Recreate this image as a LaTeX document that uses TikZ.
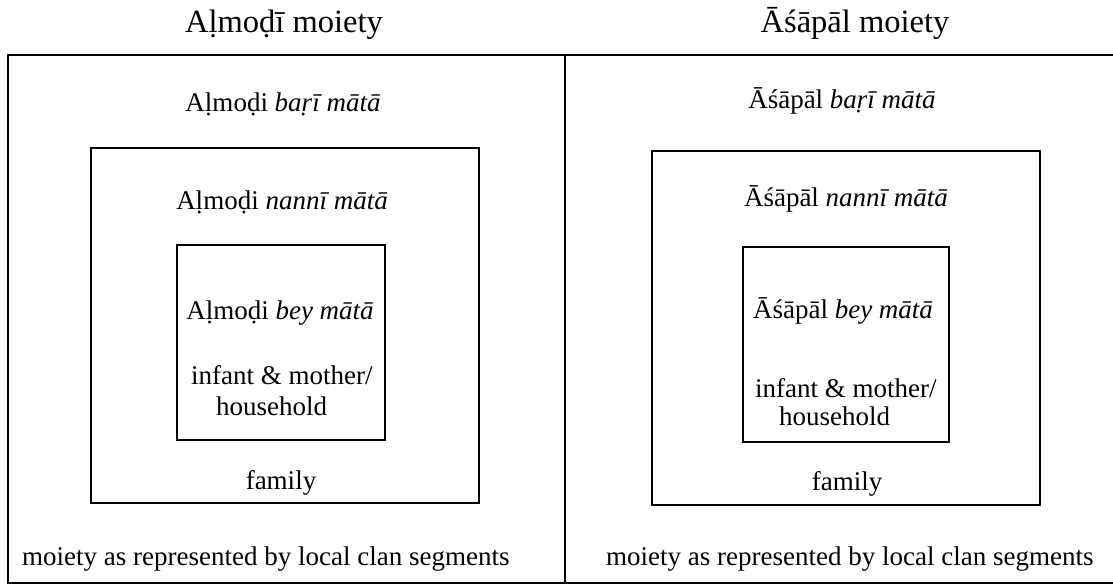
\documentclass[tikz,border=0pt]{standalone}
\usepackage{fontspec}
\setmainfont{Liberation Serif}
\begin{document}
\begin{tikzpicture}[x=1pt,y=-1pt,
  frame/.style={line width=1.6pt},
  divider/.style={line width=2.8pt},
  box/.style={draw, line width=1.3pt, inner sep=0pt},
  lbl/.style={font=\fontsize{27}{32}\selectfont, inner sep=0pt, anchor=base},
  lblw/.style={font=\fontsize{27}{32}\selectfont, inner sep=0pt, anchor=base west},
  ttl/.style={font=\fontsize{32.5}{38}\selectfont, inner sep=0pt, anchor=base}]
\useasboundingbox (0,0) rectangle (1113,585);
\begin{scope}
  \clip (0,0) rectangle (1113,585);
  \draw[frame] (8,55) rectangle (1125,583);
\end{scope}
\draw[divider] (565,55) -- (565,583);
% titles
\node[ttl] (tl) at (284,33) {Aḷmoḍī moiety};
\node[ttl] (tr) at (855,33) {Āśāpāl moiety};
% left boxes
\node[box, minimum width=388pt, minimum height=355pt] (lfam) at (285,325.5) {};
\node[box, minimum width=208pt, minimum height=195pt] (lin) at (281,342.5) {};
% right boxes
\node[box, minimum width=388pt, minimum height=354pt] (rfam) at (846,328) {};
\node[box, minimum width=206pt, minimum height=195pt] (rin) at (846,344.5) {};
% left texts
\node[lbl] (lbari) at (283,112) {Aḷmoḍi \textit{baṛī mātā}};
\node[lbl] (lnanni) at (282,210) {Aḷmoḍi \textit{nannī mātā}};
\node[lbl] (lbey) at (280,319) {Aḷmoḍi \textit{bey mātā}};
\node[lblw] (linf) at (191,384) {infant \& mother/};
\node[lblw] (lhh) at (216,415) {household};
\node[lbl] (lfamt) at (281,489) {family};
\node[lblw] (lmoi) at (22,565) {moiety as represented by local clan segments};
% right texts
\node[lbl] (rbari) at (842,109) {Āśāpāl \textit{baṛī mātā}};
\node[lbl] (rnanni) at (846,207) {Āśāpāl \textit{nannī mātā}};
\node[lbl] (rbey) at (843,318) {Āśāpāl \textit{bey mātā}};
\node[lblw] (rinf) at (755,397) {infant \& mother/};
\node[lblw] (rhh) at (779,425) {household};
\node[lbl] (rfamt) at (847,490) {family};
\node[lblw] (rmoi) at (606,565) {moiety as represented by local clan segments};
\end{tikzpicture}
\end{document}
